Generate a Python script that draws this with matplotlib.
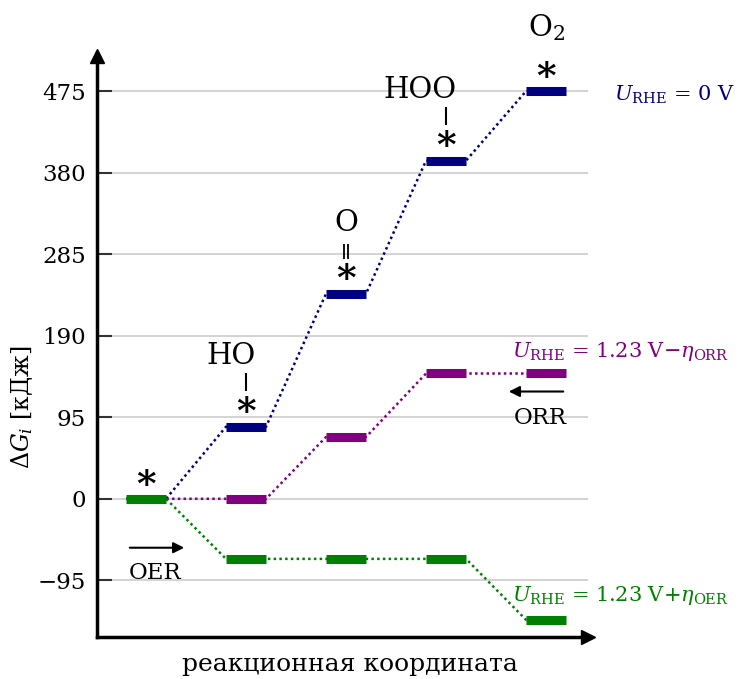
import matplotlib
matplotlib.use("Agg")
import matplotlib.pyplot as plt

# reaction steps and free energies (kJ)
steps = [0, 1, 2, 3, 4]
dg_u0 = [0, 84, 239, 394, 475]
dg_orr = [0, 0, 72, 146, 146]
dg_oer = [0, -70, -70, -70, -141]
yticks = [-95, 0, 95, 190, 285, 380, 475]

# adsorbate labels over the U=0 levels
species = ["", "HO", "O", "HOO", r"$\mathrm{O}_2$"]
bonds = [0, 1, 2, 1, 0]

plt.rcParams["font.family"] = "DejaVu Serif"
plt.rcParams["mathtext.fontset"] = "dejavuserif"

half = 0.2  # half width of a level


def draw_levels(ax, ys, color, skip_first):
    xs_path, ys_path = [], []
    for x, y in zip(steps, ys):
        xs_path += [x - half, x + half]
        ys_path += [y, y]
    ax.plot(xs_path, ys_path, color=color, lw=1.8, ls=(0, (1, 1.3)), zorder=2)
    for i, (x, y) in enumerate(zip(steps, ys)):
        if skip_first and i == 0:
            continue
        ax.hlines(y, x - half, x + half, color=color, lw=6.5, zorder=3)


fig = plt.figure(figsize=(7.39, 6.79), dpi=100)
ax = fig.add_axes([0.1313, 0.0619, 0.6644, 0.8557])

draw_levels(ax, dg_u0, "navy", True)
draw_levels(ax, dg_orr, "purple", True)
draw_levels(ax, dg_oer, "green", False)

ax.set_xlim(-0.49, 4.42)
ax.set_ylim(-161, 516)
ax.set_yticks(yticks)
ax.set_xticks([])
ax.grid(axis="y", color="#cccccc", lw=1.2, zorder=0)
ax.tick_params(axis="y", direction="in", length=11, width=1.5, color="#333333",
               labelsize=16.5, pad=8)
for s in ["top", "right"]:
    ax.spines[s].set_visible(False)
for s in ["left", "bottom"]:
    ax.spines[s].set_linewidth(2.5)
ax.plot(0, 1, "^k", ms=10, transform=ax.transAxes, clip_on=False)
ax.plot(1, 0, ">k", ms=10, transform=ax.transAxes, clip_on=False)

# asterisks, bonds and species
star_kw = dict(ha="center", va="center", fontsize=27, fontweight="bold", zorder=5)
for i, (x, y) in enumerate(zip(steps, dg_u0)):
    if i == 0:
        ax.text(x, dg_oer[0] + 16, "*", **star_kw)
        continue
    ax.text(x, y + 16, "*", **star_kw)
    if bonds[i] == 1:
        ax.vlines(x, y + 42, y + 62, color="k", lw=1.5)
        ax.text(x + 0.1, y + 82, species[i], ha="right", va="center", fontsize=21)
    elif bonds[i] == 2:
        ax.vlines([x - 0.02, x + 0.02], y + 40, y + 58, color="k", lw=1.3)
        ax.text(x, y + 82, species[i], ha="center", va="center", fontsize=21)
    else:
        ax.text(x, y + 74, species[i], ha="center", va="center", fontsize=21)

# potential labels
ax.text(steps[-1] + 0.68, dg_u0[-1] - 4, r"$U_{\mathrm{RHE}}$ = 0 V", color="navy",
        fontsize=15, ha="left", va="center", clip_on=False)
ax.text(steps[-1] - 0.34, dg_orr[-1] + 26, r"$U_{\mathrm{RHE}}$ = 1.23 V$-\eta_{\mathrm{ORR}}$",
        color="purple", fontsize=15, ha="left", va="center", clip_on=False)
ax.text(steps[-1] - 0.34, dg_oer[-1] + 28, r"$U_{\mathrm{RHE}}$ = 1.23 V+$\eta_{\mathrm{OER}}$",
        color="green", fontsize=15, ha="left", va="center", clip_on=False)

# reaction direction arrows
arrow = dict(arrowstyle="-|>", lw=1.5, color="k", mutation_scale=16)
ax.annotate("", xy=(0.41, -57), xytext=(-0.19, -57), arrowprops=arrow)
ax.text(0.09, -87, "OER", ha="center", va="center", fontsize=16.5)
ax.annotate("", xy=(3.6, dg_orr[-1] - 21), xytext=(4.2, dg_orr[-1] - 21), arrowprops=arrow)
ax.text(3.94, dg_orr[-1] - 52, "ORR", ha="center", va="center", fontsize=16.5)

ax.set_xlabel("реакционная координата", fontsize=18)
ax.xaxis.set_label_coords(0.515, -0.027, transform=ax.transAxes)
ax.xaxis.label.set_va("top")
ax.text(-0.153, 0.396, r"$\Delta G_i$ [кДж]", rotation=90, ha="center", va="center",
        fontsize=17, transform=ax.transAxes)

fig.savefig("out.png", dpi=100)
